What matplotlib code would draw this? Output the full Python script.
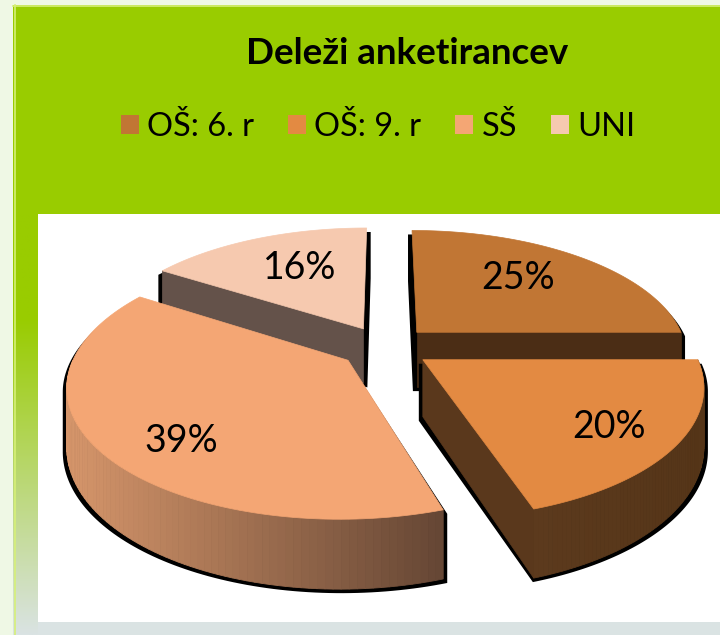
import numpy as np
import matplotlib
matplotlib.use("Agg")
import matplotlib.pyplot as plt
from matplotlib.patches import Polygon, Rectangle, Patch

plt.rcParams['font.family'] = ['Lato', 'DejaVu Sans']

# ---- data ----
categories = ['OŠ: 6. r', 'OŠ: 9. r', 'SŠ', 'UNI']
values = [25, 20, 39, 16]
title = 'Deleži anketirancev'

# ---- styles ----
top_colors = ['#C17634', '#E38A42', '#F4A674', '#F6C9AF']
cut_colors = ['#4B2D15', '#5A381C', '#7A5038', '#64524A']
wall_left = ['#5A381C', '#5C3A1D', '#D6966B', '#8A6A5E']
wall_right = ['#4D2E15', '#553518', '#654634', '#64524A']
# label placement on the top face (radius fraction, angle nudge in degrees)
label_r = [0.65, 0.77, 0.77, 0.63]
label_dang = [-4, 2, -8.5, 3]

W, H = 720, 635
fig = plt.figure(figsize=(W / 100, H / 100), dpi=100)
fig.patch.set_facecolor('#EFF8E5')
ax = fig.add_axes([0, 0, 1, 1])
ax.set_xlim(0, W)
ax.set_ylim(H, 0)
ax.axis('off')

# ---- background panels ----
GREEN = '#99CC00'
ax.add_patch(Rectangle((13, 5), W - 13, 617, color=GREEN, lw=0, zorder=0))
grad = np.linspace(0, 1, 256)
g0 = np.array([0x99, 0xCC, 0x00]) / 255
g1 = np.array([0xDA, 0xE3, 0xE3]) / 255
t = np.clip((grad - 0.25) / 0.75, 0, 1)[:, None]
img = (g0 * (1 - t) + g1 * t)[:, None, :]
ax.imshow(img, extent=(13, 38, 635, 214), aspect='auto', zorder=0.5)
ax.add_patch(Rectangle((38, 622), W - 38, 13, color='#DAE3E3', lw=0, zorder=0.5))
ax.plot([14.5, 14.5], [5, 635], color='#D6F078', lw=1.2, zorder=0.6)
ax.plot([13, W], [5.5, 5.5], color='#D6F078', lw=1.2, zorder=0.6)
ax.add_patch(Rectangle((38, 214), W - 38, 408, color='white', lw=0, zorder=0.7))

# ---- title & legend ----
ax.text(407, 53, title, ha='center', va='center', fontsize=26.5,
        fontweight='bold', color='black', zorder=5)
handles = [Patch(facecolor=c, edgecolor='none') for c in top_colors]
leg = ax.legend(handles, categories, loc='center', ncol=4,
                bbox_to_anchor=(378 / W, 1 - 127 / H), frameon=False,
                fontsize=23.5, handlelength=0.55, handleheight=0.55,
                handletextpad=0.25, columnspacing=1.05)

# ---- 3D pie geometry ----
CX, CY = 385, 347
R = 270
VR = 125
K = 0.18
DEPTH = 56
EXPLODE = 0.17


def proj(x, z, h):
    f = 1.0 / (1.0 + K * z)
    return CX + R * x * f, CY - VR * z * f + DEPTH * h * f


def mix(c1, c2, t):
    a = np.array(matplotlib.colors.to_rgb(c1))
    b = np.array(matplotlib.colors.to_rgb(c2))
    return a * (1 - t) + b * t


def hull(pts):
    pts = sorted(set(map(tuple, pts)))
    def cross(o, a, b):
        return (a[0]-o[0])*(b[1]-o[1]) - (a[1]-o[1])*(b[0]-o[0])
    lower, upper = [], []
    for p in pts:
        while len(lower) >= 2 and cross(lower[-2], lower[-1], p) <= 0:
            lower.pop()
        lower.append(p)
    for p in reversed(pts):
        while len(upper) >= 2 and cross(upper[-2], upper[-1], p) <= 0:
            upper.pop()
        upper.append(p)
    return lower[:-1] + upper[:-1]


total = float(sum(values))
bounds = np.concatenate([[0], np.cumsum(values)]) / total * 2 * np.pi
slices = []
for i in range(len(values)):
    t0, t1 = bounds[i], bounds[i + 1]
    mid = (t0 + t1) / 2
    slices.append((i, t0, t1, mid))
slices.sort(key=lambda s: -np.cos(s[3]))

for i, t0, t1, mid in slices:
    ex, ez = EXPLODE * np.sin(mid), EXPLODE * np.cos(mid)
    th = np.linspace(t0, t1, 120)

    def P(theta, r, h):
        return proj(ex + r * np.sin(theta), ez + r * np.cos(theta), h)

    top = [P(0, 0, 0)] + [P(a, 1, 0) for a in th]
    bot = [P(0, 0, 1)] + [P(a, 1, 1) for a in th]
    # shadow: silhouette slightly widened and shifted down
    hpts = hull(top + bot)
    xs_all = [p[0] for p in hpts]
    hc = (min(xs_all) + max(xs_all)) / 2
    hw = (max(xs_all) - min(xs_all)) / 2
    s = 1 + 4.0 / hw
    sh = [(hc + (x - hc) * s, y + 4) for x, y in hpts]
    ax.add_patch(Polygon(sh, closed=True, fc='black', ec='none', zorder=2))
    # cut faces
    for ang, vis in ((t0, np.sin(t0) < -1e-6), (t1, np.sin(t1) > 1e-6)):
        if vis:
            face = [P(ang, 0, 0), P(ang, 1, 0), P(ang, 1, 1), P(ang, 0, 1)]
            ax.add_patch(Polygon(face, closed=True, fc=cut_colors[i],
                                 ec=cut_colors[i], lw=0.5, zorder=2))
    # outer wall (front-facing part)
    a0, a1 = max(t0, np.pi / 2), min(t1, 3 * np.pi / 2)
    if a1 > a0:
        wa = np.linspace(a0, a1, 80)
        xs = [P(a, 1, 0)[0] for a in wa]
        xmin, xmax = min(xs), max(xs)
        for j in range(len(wa) - 1):
            q = [P(wa[j], 1, 0), P(wa[j + 1], 1, 0),
                 P(wa[j + 1], 1, 1), P(wa[j], 1, 1)]
            xm = (q[0][0] + q[1][0]) / 2
            tt = (xm - xmin) / max(xmax - xmin, 1e-6)
            c = mix(wall_left[i], wall_right[i], tt)
            ax.add_patch(Polygon(q, closed=True, fc=c, ec=c, lw=0.6, zorder=2))
    # top face
    ax.add_patch(Polygon(top, closed=True, fc=top_colors[i],
                         ec=top_colors[i], lw=0.5, zorder=2))
    la = mid + np.deg2rad(label_dang[i])
    lx, ly = P(la, label_r[i], 0)
    ax.text(lx, ly, f'{values[i]}%', ha='center', va='center',
            fontsize=27, color='black', zorder=4)

fig.savefig('out.png', dpi=100, facecolor=fig.get_facecolor())
